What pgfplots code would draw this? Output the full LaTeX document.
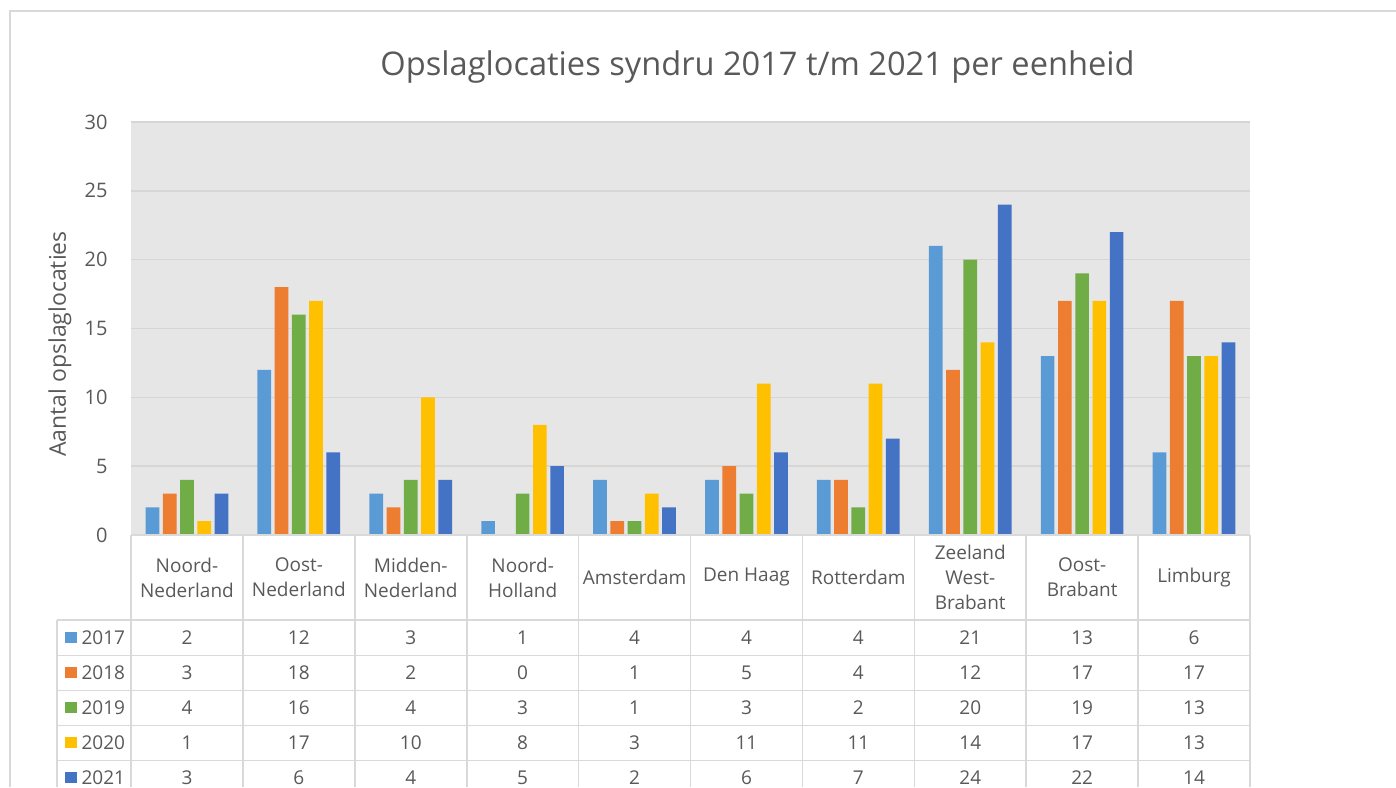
\documentclass[border=0pt]{standalone}
\usepackage{pgfplots}
\pgfplotsset{compat=1.18}
\usepackage{fontspec}
\setmainfont{Open Sans}
\definecolor{c17}{HTML}{5B9BD5}
\definecolor{c18}{HTML}{ED7D31}
\definecolor{c19}{HTML}{70AD47}
\definecolor{c20}{HTML}{FFC000}
\definecolor{c21}{HTML}{4472C4}
\definecolor{plotbg}{HTML}{E6E6E6}
\definecolor{gridc}{HTML}{D6D6D6}
\definecolor{linec}{HTML}{D9D9D9}
\definecolor{txt}{HTML}{595959}
\begin{document}
\begin{tikzpicture}[x=1pt,y=1pt]
\path[use as bounding box] (0,0) rectangle (1396,787);
\draw[line width=1.6pt, draw=linec] (10,0) -- (10,776) -- (1396,776);
\node[text=txt, font=\fontsize{32.6}{38}\selectfont] at (757.5,720) {Opslaglocaties syndru 2017 t/m 2021 per eenheid};
\node[text=txt, rotate=90, font=\fontsize{23}{27}\selectfont] at (60,443) {Aantal opslaglocaties};
\begin{axis}[
  at={(131pt,252pt)}, anchor=south west, scale only axis,
  width=1119pt, height=413pt,
  xmin=-0.5, xmax=9.5, ymin=0, ymax=30,
  ytick={0,5,...,30}, xtick=\empty,
  ybar, bar width=13.7pt,
  axis background/.style={fill=plotbg},
  axis line style={draw=none},
  ymajorgrids, grid style={draw=gridc, line width=1.4pt},
  major tick length=0pt,
  /pgf/number format/assume math mode=true,
  yticklabel style={font=\fontsize{20}{24}\selectfont, text=txt, anchor=east, xshift=-20pt},
]
\addplot[fill=c17, draw=none, bar shift=-34.5pt] coordinates {(0,2) (1,12) (2,3) (3,1) (4,4) (5,4) (6,4) (7,21) (8,13) (9,6)};
\addplot[fill=c18, draw=none, bar shift=-17.25pt] coordinates {(0,3) (1,18) (2,2) (3,0) (4,1) (5,5) (6,4) (7,12) (8,17) (9,17)};
\addplot[fill=c19, draw=none, bar shift=0pt] coordinates {(0,4) (1,16) (2,4) (3,3) (4,1) (5,3) (6,2) (7,20) (8,19) (9,13)};
\addplot[fill=c20, draw=none, bar shift=17.25pt] coordinates {(0,1) (1,17) (2,10) (3,8) (4,3) (5,11) (6,11) (7,14) (8,17) (9,13)};
\addplot[fill=c21, draw=none, bar shift=34.5pt] coordinates {(0,3) (1,6) (2,4) (3,5) (4,2) (5,6) (6,7) (7,24) (8,22) (9,14)};
\end{axis}
% data table grid
\foreach \k in {0,...,10} { \draw[line width=1.6pt, draw=linec] (131+111.9*\k,252) -- (131+111.9*\k,0); }
\draw[line width=1.6pt, draw=linec] (57,167) -- (57,0);
\draw[line width=1.6pt, draw=linec] (131,252) -- (1250,252);
\foreach \yy in {167,131.5,96.5,61.5,26.5} { \draw[line width=1.6pt, draw=linec] (57,\yy) -- (1250,\yy); }
% header labels
\foreach \lab [count=\k from 0] in {Noord-\\Nederland, Oost-\\Nederland, Midden-\\Nederland, Noord-\\Holland, Amsterdam, Den Haag, Rotterdam, Zeeland\\West-\\Brabant, Oost-\\Brabant, Limburg} {
  \node[text=txt, align=center, font=\fontsize{19}{25}\selectfont] at (186.95+111.9*\k,209.5) {\lab};
}
% rows
\foreach \c/\lab/\vals [count=\r from 0] in {c17/2017/{2,12,3,1,4,4,4,21,13,6}, c18/2018/{3,18,2,0,1,5,4,12,17,17}, c19/2019/{4,16,4,3,1,3,2,20,19,13}, c20/2020/{1,17,10,8,3,11,11,14,17,13}, c21/2021/{3,6,4,5,2,6,7,24,22,14}} {
  \pgfmathsetmacro\Y{149.5-35*\r}
  \fill[\c] (65,\Y-5.75) rectangle ++(11.5,11.5);
  \node[text=txt, anchor=west, font=\fontsize{19}{23}\selectfont] at (78,\Y) {\lab};
  \foreach \v [count=\k from 0] in \vals {
    \node[text=txt, font=\fontsize{19}{23}\selectfont] at (186.95+111.9*\k,\Y) {\v};
  }
}
\end{tikzpicture}
\end{document}
